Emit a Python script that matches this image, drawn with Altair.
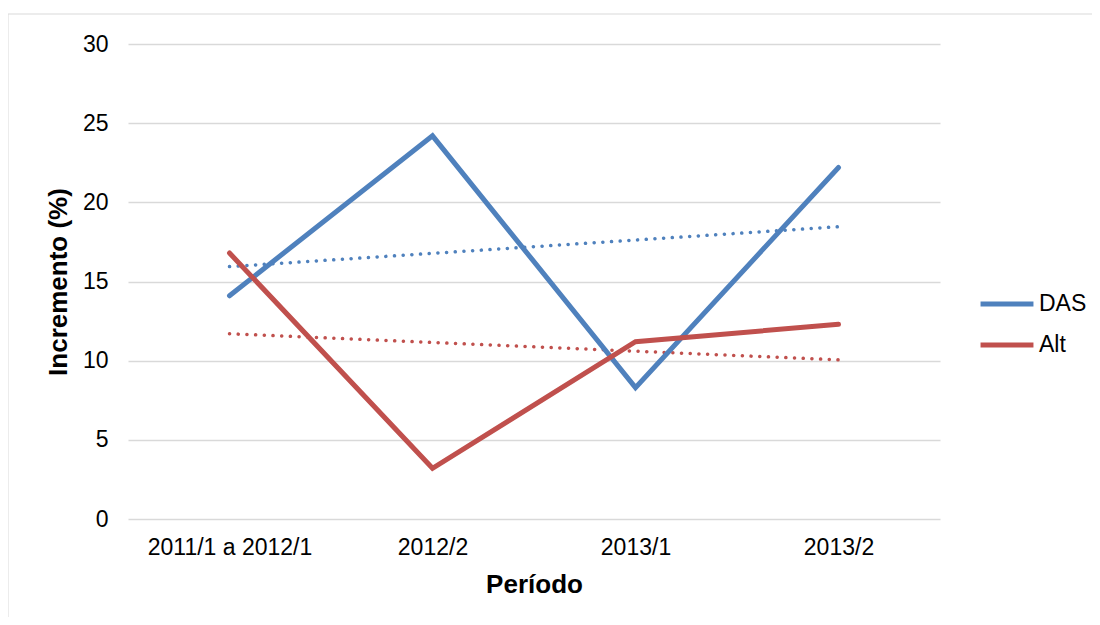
import json
import altair as alt
import pandas as pd

categories = ["2011/1 a 2012/1", "2012/2", "2013/1", "2013/2"]
das_values = [14.1, 24.2, 8.3, 22.2]
alt_values = [16.8, 3.2, 11.2, 12.3]
series_names = ["DAS", "Alt"]
series_colors = ["#4F81BD", "#C0504D"]
y_ticks = [0, 5, 10, 15, 20, 25, 30]

rows = []
for name, vals in zip(series_names, [das_values, alt_values]):
    for i, (c, v) in enumerate(zip(categories, vals)):
        rows.append({"series": name, "idx": i, "cat": c, "value": v})
df = pd.DataFrame(rows)

label_expr = json.dumps(categories) + "[datum.value]"

FONT = "Liberation Sans"

x_enc = alt.X(
    "idx:Q",
    scale=alt.Scale(domain=[-0.5, 3.5], nice=False, zero=False),
    axis=alt.Axis(
        title="Período",
        values=[0, 1, 2, 3],
        labelExpr=label_expr,
        grid=False,
        domain=False,
        ticks=False,
        tickSize=0,
        labelPadding=17,
        labelFontSize=23,
        labelFont=FONT,
        labelColor="#000000",
        titleFontSize=26,
        titleFont=FONT,
        titleFontWeight="bold",
        titleColor="#000000",
        titlePadding=12,
    ),
)
y_enc = alt.Y(
    "value:Q",
    scale=alt.Scale(domain=[0, 30], nice=False),
    axis=alt.Axis(
        title="Incremento (%)",
        values=y_ticks,
        grid=True,
        gridColor="#d9d9d9",
        gridWidth=1.5,
        domain=False,
        ticks=False,
        tickSize=0,
        labelPadding=20,
        labelFontSize=23,
        labelFont=FONT,
        labelColor="#000000",
        titleFontSize=26,
        titleFont=FONT,
        titleFontWeight="bold",
        titleColor="#000000",
        titlePadding=11,
    ),
)
color_enc = alt.Color(
    "series:N",
    scale=alt.Scale(domain=series_names, range=series_colors),
    sort=series_names,
    legend=alt.Legend(
        title=None,
        orient="none",
        legendX=850,
        legendY=231,
        symbolType="stroke",
        symbolSize=2800,
        symbolStrokeWidth=5,
        labelFontSize=23,
        labelFont=FONT,
        labelColor="#000000",
        labelOffset=3,
        rowPadding=-13,
    ),
)

base = alt.Chart(df)

trend = base.transform_regression(
    "idx", "value", groupby=["series"], method="linear"
).mark_line(strokeWidth=3.5, strokeDash=[0.1, 8.6], strokeCap="round").encode(
    x=x_enc, y=y_enc, color=color_enc
)

lines = base.mark_line(strokeWidth=5, strokeCap="round", strokeJoin="miter").encode(
    x=x_enc, y=y_enc, color=color_enc, order=alt.Order("idx:Q")
)

frame_data = alt.Data(values=[{}])
frame_top = alt.Chart(frame_data).mark_rule(
    stroke="#d9d9d9", strokeWidth=1, clip=False
).encode(x=alt.value(-120), x2=alt.value(1100), y=alt.value(-30))
frame_left = alt.Chart(frame_data).mark_rule(
    stroke="#d9d9d9", strokeWidth=1, clip=False
).encode(x=alt.value(-120), y=alt.value(-30), y2=alt.value(700))

chart = alt.layer(frame_top, frame_left, trend, lines).properties(
    width=812,
    height=475,
    padding={"left": 120, "top": 36, "right": 152, "bottom": 98},
    autosize=alt.AutoSizeParams(type="none"),
    background="#ffffff",
).configure_view(stroke=None)

chart.save("out.html", embed_options={"renderer": "svg", "actions": False})
